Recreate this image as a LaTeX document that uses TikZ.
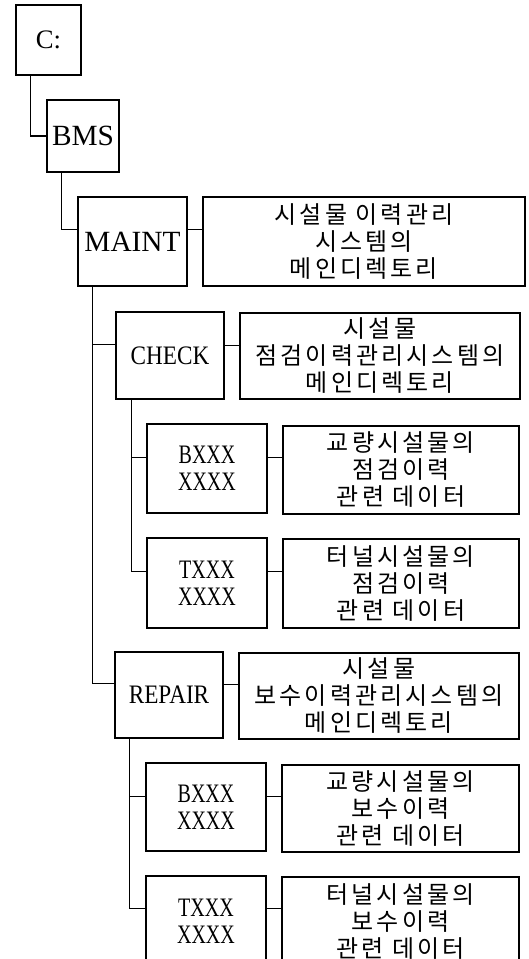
\documentclass[tikz,border=0pt]{standalone}
\usepackage{fontspec}
\setmainfont{Liberation Serif}
\newfontfamily\kr[LetterSpace=13]{Noto Sans CJK KR}
\newfontfamily\cond[FakeStretch=0.87]{Liberation Serif}
\newfontfamily\condx[FakeStretch=0.75]{Liberation Serif}
\usetikzlibrary{calc}
\tikzset{
  dirbox/.style={draw, line width=2pt, inner sep=0pt, align=center},
  bigtxt/.style={font=\fontsize{22}{26}\selectfont},
  midtxt/.style={font=\cond\fontsize{20}{24}\selectfont},
  smalltxt/.style={font=\condx\fontsize{20}{20}\selectfont},
  descbox/.style={draw, line width=1pt, inner sep=0pt, align=center, font=\kr\fontsize{18}{20.25}\selectfont},
  link/.style={line width=0.8pt},
}
\newcommand\mybox[7]{\node[#2, minimum width={(#5-#3)*0.75pt}, minimum height={(#6-#4)*0.75pt}] (#1) at ({(#3+#5)/2},{(#4+#6)/2}) {#7};}
\newcommand\myconn[3]{\coordinate (#1#2) at ($(#1.north east)+(0,#3)$); \draw[link] (#1#2) -- (#1#2 -| #2.west);}
\newcommand\mybranch[4]{\coordinate (#1#2) at ($(#2.north west)+(0,#4)$); \draw[link] ($(#1.south west)+(#3,0)$) |- (#1#2);}
\begin{document}
\begin{tikzpicture}[x=0.75pt, y=-0.75pt]
\useasboundingbox (0,0) rectangle (528,959);
\clip (0,0) rectangle (528,959);
% directory boxes
\mybox{C}{dirbox,font=\fontsize{20}{24}\selectfont}{16}{5}{81}{75}{C:}
\mybox{BMS}{dirbox,bigtxt}{47}{100}{119}{172}{BMS}
\mybox{MAINT}{dirbox,bigtxt}{78}{197}{187}{286}{MAINT}
\mybox{CHECK}{dirbox,midtxt}{116}{312}{224}{399}{CHECK}
\mybox{BA}{dirbox,smalltxt}{147}{424}{267}{513}{BXXX\\XXXX}
\mybox{TA}{dirbox,smalltxt}{147}{538}{267}{628}{TXXX\\XXXX}
\mybox{REPAIR}{dirbox,midtxt}{115}{652}{223}{738}{REPAIR}
\mybox{BB}{dirbox,smalltxt}{146}{763}{266}{851}{BXXX\\XXXX}
\mybox{TB}{dirbox,smalltxt}{146}{876}{266}{966}{TXXX\\XXXX}
% description boxes
\mybox{MAINTd}{descbox}{203}{197}{525}{286}{시설물 이력관리\\시스템의\\메인디렉토리}
\mybox{CHECKd}{descbox}{240}{313}{520}{399}{시설물\\점검이력관리시스템의\\메인디렉토리}
\mybox{BAd}{descbox}{283}{426}{519}{514}{교량시설물의\\점검이력\\관련 데이터}
\mybox{TAd}{descbox}{283}{539}{519}{628}{터널시설물의\\점검이력\\관련 데이터}
\mybox{REPAIRd}{descbox}{239}{653}{519}{739}{시설물\\보수이력관리시스템의\\메인디렉토리}
\mybox{BBd}{descbox}{282}{765}{519}{852}{교량시설물의\\보수이력\\관련 데이터}
\mybox{TBd}{descbox}{282}{877}{519}{966}{터널시설물의\\보수이력\\관련 데이터}
% tree connectors
\draw[link] ($(C.south west)+(16,0)$) |- (BMS.west);
\mybranch{BMS}{MAINT}{16}{34}
\mybranch{MAINT}{CHECK}{16}{34}
\mybranch{MAINT}{REPAIR}{16}{33}
\mybranch{CHECK}{BA}{17}{35}
\mybranch{CHECK}{TA}{17}{35}
\mybranch{REPAIR}{BB}{16}{35}
\mybranch{REPAIR}{TB}{16}{34}
% description connectors
\myconn{MAINT}{MAINTd}{34}
\myconn{CHECK}{CHECKd}{35}
\myconn{BA}{BAd}{35}
\myconn{TA}{TAd}{35}
\myconn{REPAIR}{REPAIRd}{34}
\myconn{BB}{BBd}{35}
\myconn{TB}{TBd}{34}
\end{tikzpicture}
\end{document}
